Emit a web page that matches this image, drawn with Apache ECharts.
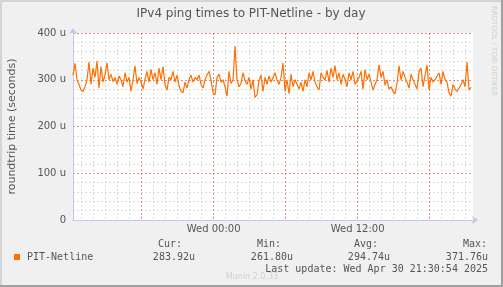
<!DOCTYPE html>
<html><head><meta charset="utf-8">
<script src="https://cdn.jsdelivr.net/npm/echarts@6/dist/echarts.min.js"></script>
<style>html,body{margin:0;padding:0;background:#f0f0f0}#c{width:503px;height:287px}</style>
</head><body><div id="c"></div>
<script>
// Time axis: hours relative to Wed 00:00
const startHour = -11.72;       // first sample (Tue ~12:17)
const stepMinutes = 10;         // sample spacing
const axisMinHour = -11.72;
const axisMaxHour = 21.61;
const xLabelHours = [0, 12];
const xLabelTexts = ['Wed 00:00', 'Wed 12:00'];
const yTicks = [0, 100, 200, 300, 400];
// ping times in microseconds
const pingValues = [
 310,335,300,290,278,275,285,300,338,290,325,305,340,282,328,295,310,336,300,312,296,305,290,308,300,285,315,295,305,275,300,330,292,305,
 295,280,300,318,295,322,300,315,290,325,300,328,290,278,305,300,318,295,310,288,275,272,295,282,300,310,295,305,300,310,290,282,300,310,
 318,300,272,268,305,312,295,300,285,265,318,292,300,372,300,285,292,315,298,290,305,280,300,262,268,298,310,275,305,290,308,295,305,315,
 300,290,305,336,275,300,270,312,285,300,290,280,295,275,300,285,315,300,318,295,285,278,315,305,300,320,295,325,305,330,300,315,290,312,
 300,285,315,300,318,290,298,305,318,280,322,300,312,295,278,290,300,332,305,318,288,300,280,285,275,270,292,330,300,318,305,295,282,312,
 300,290,280,318,325,285,310,332,278,305,295,300,308,315,290,318,300,295,272,265,290,280,275,282,290,300,285,338,278,284
];
const seriesName = 'PIT-Netline';
const statLabels = ['Cur:', 'Min:', 'Avg:', 'Max:'];
const statValues = ['283.92u', '261.80u', '294.74u', '371.76u'];
const lastUpdate = 'Last update: Wed Apr 30 21:30:54 2025';

const data = pingValues.map((v, i) => [startHour + i * stepMinutes / 60, v]);
const minorHours = [], majorHours = [];
for (let h = Math.ceil(axisMinHour); h <= Math.floor(axisMaxHour); h++) (h % 6 === 0 ? majorHours : minorHours).push(h);
const minorY = [];
for (let v = 20; v < 400; v += 20) if (v % 100 !== 0) minorY.push(v);

const txt = '#555555';
const red = '#e28c8c';
const chart = echarts.init(document.getElementById('c'), null, {renderer: 'canvas'});
chart.setOption({
  backgroundColor: '#f0f0f0',
  animation: false,
  grid: {left: 73, right: 30, top: 33, bottom: 67, containLabel: false, outerBoundsMode: 'none',
         backgroundColor: '#ffffff', show: true, borderWidth: 0},
  xAxis: [{
    type: 'value', min: axisMinHour, max: axisMaxHour,
    axisLine: {show: true, onZero: false, lineStyle: {color: '#c4c4ee', width: 1}, symbol: ['none', 'arrow'], symbolSize: [6, 6], symbolOffset: [0, 5]},
    axisTick: {show: false, customValues: minorHours},
    axisLabel: {show: false},
    splitLine: {show: true, lineStyle: {color: '#dcdcdc', type: [2, 2], width: 1}}
  }, {
    type: 'value', min: axisMinHour, max: axisMaxHour, position: 'bottom',
    axisLine: {show: false, onZero: false},
    axisTick: {show: false, customValues: majorHours},
    axisLabel: {show: true, customValues: xLabelHours, margin: 4, color: txt, fontFamily: 'DejaVu Sans', fontSize: 10,
      formatter: v => { const k = xLabelHours.indexOf(Math.round(v)); return k >= 0 ? xLabelTexts[k] : ''; }},
    splitLine: {show: true, lineStyle: {color: red, type: [2, 2], width: 1}}
  }],
  yAxis: [{
    type: 'value', min: 0, max: 400,
    axisLine: {show: false, onZero: false}, axisTick: {show: false, customValues: minorY}, axisLabel: {show: false},
    splitLine: {show: true, lineStyle: {color: '#dcdcdc', type: [2, 2], width: 1}}
  }, {
    type: 'value', min: 0, max: 400, interval: 100, position: 'left',
    axisLine: {show: true, onZero: false, lineStyle: {color: '#c4c4ee', width: 1}, symbol: ['none', 'arrow'], symbolSize: [6, 6], symbolOffset: [0, 5]},
    axisTick: {show: false},
    axisLabel: {show: true, margin: 7, color: txt, fontFamily: 'DejaVu Sans', fontSize: 10,
      formatter: v => v === 0 ? '0' : v + ' u'},
    splitLine: {show: true, lineStyle: {color: red, type: [2, 2], width: 1}},
    name: 'roundtrip time (seconds)', nameLocation: 'middle', nameGap: 55, nameRotate: 90,
    nameTextStyle: {color: txt, fontFamily: 'DejaVu Sans', fontSize: 11}
  }],
  series: [{
    name: seriesName, type: 'line', xAxisIndex: 0, yAxisIndex: 1, data: data,
    showSymbol: false, symbol: 'none', lineStyle: {color: '#ff7000', width: 1.2}, z: 5
  }],
  graphic: [
    {type: 'rect', shape: {x: 0, y: 0, width: 503, height: 2}, style: {fill: '#d4d4d4'}, silent: true},
    {type: 'rect', shape: {x: 0, y: 0, width: 2, height: 287}, style: {fill: '#d4d4d4'}, silent: true},
    {type: 'rect', shape: {x: 0, y: 285, width: 503, height: 2}, style: {fill: '#a0a0a0'}, silent: true},
    {type: 'rect', shape: {x: 501, y: 0, width: 2, height: 287}, style: {fill: '#a0a0a0'}, silent: true},
    {type: 'text', x: 251, y: 14, style: {text: 'IPv4 ping times to PIT-Netline - by day', fill: txt, font: '12px "DejaVu Sans"', textAlign: 'center', textVerticalAlign: 'middle'}},
    {type: 'text', x: 494, y: 6, rotation: -Math.PI / 2, style: {text: 'RRDTOOL / TOBI OETIKER', fill: '#cfcfcf', font: '7px "DejaVu Sans"', textAlign: 'left', textVerticalAlign: 'middle'}},
    {type: 'rect', shape: {x: 14, y: 254, width: 6, height: 6}, style: {fill: '#ff7000'}},
    {type: 'text', x: 27, y: 257, style: {text: seriesName, fill: txt, font: '10px "DejaVu Sans Mono"', textAlign: 'left', textVerticalAlign: 'middle'}},
    {type: 'text', x: 182, y: 244, style: {text: statLabels[0], fill: txt, font: '10px "DejaVu Sans Mono"', textAlign: 'right', textVerticalAlign: 'middle'}},
    {type: 'text', x: 195, y: 257, style: {text: statValues[0], fill: txt, font: '10px "DejaVu Sans Mono"', textAlign: 'right', textVerticalAlign: 'middle'}},
    {type: 'text', x: 281, y: 244, style: {text: statLabels[1], fill: txt, font: '10px "DejaVu Sans Mono"', textAlign: 'right', textVerticalAlign: 'middle'}},
    {type: 'text', x: 293, y: 257, style: {text: statValues[1], fill: txt, font: '10px "DejaVu Sans Mono"', textAlign: 'right', textVerticalAlign: 'middle'}},
    {type: 'text', x: 378, y: 244, style: {text: statLabels[2], fill: txt, font: '10px "DejaVu Sans Mono"', textAlign: 'right', textVerticalAlign: 'middle'}},
    {type: 'text', x: 390, y: 257, style: {text: statValues[2], fill: txt, font: '10px "DejaVu Sans Mono"', textAlign: 'right', textVerticalAlign: 'middle'}},
    {type: 'text', x: 487, y: 244, style: {text: statLabels[3], fill: txt, font: '10px "DejaVu Sans Mono"', textAlign: 'right', textVerticalAlign: 'middle'}},
    {type: 'text', x: 488, y: 257, style: {text: statValues[3], fill: txt, font: '10px "DejaVu Sans Mono"', textAlign: 'right', textVerticalAlign: 'middle'}},
    {type: 'text', x: 488, y: 269, style: {text: lastUpdate, fill: txt, font: '10px "DejaVu Sans Mono"', textAlign: 'right', textVerticalAlign: 'middle'}},
    {type: 'text', x: 252, y: 277, style: {text: 'Munin 2.0.33', fill: '#d0d0d0', font: '8px "DejaVu Sans"', textAlign: 'center', textVerticalAlign: 'middle'}}
  ]
});
</script></body></html>
